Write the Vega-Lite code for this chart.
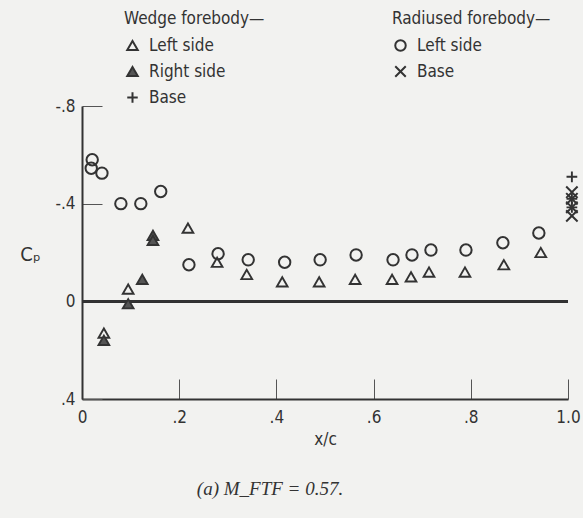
{
  "$schema": "https://vega.github.io/schema/vega-lite/v6.json",
  "width": 486,
  "height": 293,
  "autosize": "none",
  "padding": {"left": 82, "top": 106, "right": 15, "bottom": 119},
  "background": "#f2f2f0",
  "config": {
    "view": {"stroke": null},
    "font": "Liberation Sans Narrow, DejaVu Sans Condensed, Liberation Sans",
    "axis": {
      "domainColor": "#333",
      "domainWidth": 2,
      "tickColor": "#555",
      "tickWidth": 1,
      "tickSize": -20,
      "grid": false,
      "labelFlush": false,
      "labelFontSize": 17,
      "labelColor": "#333",
      "titleFontSize": 17,
      "titleFontWeight": "normal",
      "titleColor": "#333"
    },
    "legend": {
      "orient": "none",
      "titleFontSize": 17,
      "labelFontSize": 17,
      "titleFontWeight": "normal",
      "titleColor": "#333",
      "labelColor": "#333",
      "rowPadding": 7,
      "titlePadding": 9,
      "symbolStrokeWidth": 2,
      "symbolStrokeColor": "#333",
      "symbolSize": 110,
      "labelOffset": 8,
      "padding": 0
    }
  },
  "title": {
    "text": "(a)  M_FTF = 0.57.",
    "orient": "bottom",
    "font": "Liberation Serif",
    "fontStyle": "italic",
    "fontWeight": "normal",
    "fontSize": 19,
    "color": "#333",
    "offset": 33,
    "dx": -55
  },
  "data": {
    "values": [
      {"forebody": "Radiused", "series": "Left side", "x": 0.021, "cp": -0.58},
      {"forebody": "Radiused", "series": "Left side", "x": 0.019, "cp": -0.545},
      {"forebody": "Radiused", "series": "Left side", "x": 0.041, "cp": -0.525},
      {"forebody": "Radiused", "series": "Left side", "x": 0.080, "cp": -0.40},
      {"forebody": "Radiused", "series": "Left side", "x": 0.121, "cp": -0.40},
      {"forebody": "Radiused", "series": "Left side", "x": 0.162, "cp": -0.45},
      {"forebody": "Radiused", "series": "Left side", "x": 0.220, "cp": -0.15},
      {"forebody": "Radiused", "series": "Left side", "x": 0.280, "cp": -0.195},
      {"forebody": "Radiused", "series": "Left side", "x": 0.342, "cp": -0.17},
      {"forebody": "Radiused", "series": "Left side", "x": 0.417, "cp": -0.16},
      {"forebody": "Radiused", "series": "Left side", "x": 0.490, "cp": -0.17},
      {"forebody": "Radiused", "series": "Left side", "x": 0.564, "cp": -0.19},
      {"forebody": "Radiused", "series": "Left side", "x": 0.640, "cp": -0.17},
      {"forebody": "Radiused", "series": "Left side", "x": 0.679, "cp": -0.19},
      {"forebody": "Radiused", "series": "Left side", "x": 0.718, "cp": -0.21},
      {"forebody": "Radiused", "series": "Left side", "x": 0.790, "cp": -0.21},
      {"forebody": "Radiused", "series": "Left side", "x": 0.866, "cp": -0.24},
      {"forebody": "Radiused", "series": "Left side", "x": 0.940, "cp": -0.28},
      {"forebody": "Radiused", "series": "Base", "x": 1.008, "cp": -0.447},
      {"forebody": "Radiused", "series": "Base", "x": 1.008, "cp": -0.42},
      {"forebody": "Radiused", "series": "Base", "x": 1.008, "cp": -0.385},
      {"forebody": "Radiused", "series": "Base", "x": 1.008, "cp": -0.35},
      {"forebody": "Wedge", "series": "Left side", "x": 0.045, "cp": 0.13},
      {"forebody": "Wedge", "series": "Left side", "x": 0.095, "cp": -0.05},
      {"forebody": "Wedge", "series": "Left side", "x": 0.218, "cp": -0.30},
      {"forebody": "Wedge", "series": "Left side", "x": 0.278, "cp": -0.16},
      {"forebody": "Wedge", "series": "Left side", "x": 0.339, "cp": -0.11},
      {"forebody": "Wedge", "series": "Left side", "x": 0.412, "cp": -0.08},
      {"forebody": "Wedge", "series": "Left side", "x": 0.488, "cp": -0.08},
      {"forebody": "Wedge", "series": "Left side", "x": 0.562, "cp": -0.09},
      {"forebody": "Wedge", "series": "Left side", "x": 0.638, "cp": -0.09},
      {"forebody": "Wedge", "series": "Left side", "x": 0.677, "cp": -0.10},
      {"forebody": "Wedge", "series": "Left side", "x": 0.714, "cp": -0.12},
      {"forebody": "Wedge", "series": "Left side", "x": 0.788, "cp": -0.12},
      {"forebody": "Wedge", "series": "Left side", "x": 0.868, "cp": -0.15},
      {"forebody": "Wedge", "series": "Left side", "x": 0.944, "cp": -0.20},
      {"forebody": "Wedge", "series": "Right side", "x": 0.045, "cp": 0.16},
      {"forebody": "Wedge", "series": "Right side", "x": 0.095, "cp": 0.01},
      {"forebody": "Wedge", "series": "Right side", "x": 0.124, "cp": -0.09},
      {"forebody": "Wedge", "series": "Right side", "x": 0.146, "cp": -0.27},
      {"forebody": "Wedge", "series": "Right side", "x": 0.146, "cp": -0.25},
      {"forebody": "Wedge", "series": "Base", "x": 1.008, "cp": -0.51},
      {"forebody": "Wedge", "series": "Base", "x": 1.008, "cp": -0.42},
      {"forebody": "Wedge", "series": "Base", "x": 1.008, "cp": -0.385}
    ]
  },
  "layer": [
    {
      "mark": {"type": "rule", "color": "#333", "strokeWidth": 2},
      "encoding": {
        "y": {
          "datum": 0, "type": "quantitative",
          "scale": {"domain": [-0.8, 0.4], "reverse": true, "nice": false, "zero": false},
          "axis": {"values": [-0.8, -0.4, 0, 0.4], "labelExpr": "datum.value == 0 ? '0' : (datum.value < 0 ? '-' : '') + '.' + format(abs(datum.value) * 10, 'd')", "title": "Cₚ", "titleFontSize": 20, "titleAngle": 0, "titleX": -52, "titleY": 158, "labelPadding": 27}
        }
      }
    },
    {
      "transform": [{"filter": "datum.forebody === 'Wedge'"}],
      "mark": {"type": "point", "filled": true, "strokeWidth": 1.9, "size": 115, "opacity": 1},
      "encoding": {
        "x": {
          "field": "x", "type": "quantitative",
          "scale": {"domain": [0, 1], "nice": false},
          "axis": {"values": [0, 0.2, 0.4, 0.6, 0.8, 1], "labelExpr": "datum.value == 0 ? '0' : datum.value == 1 ? '1.0' : '.' + format(datum.value * 10, 'd')", "title": "x/c", "labelPadding": 30, "titlePadding": 6}
        },
        "y": {
          "field": "cp", "type": "quantitative",
          "scale": {"domain": [-0.8, 0.4], "reverse": true, "nice": false, "zero": false},
          "axis": {"values": [-0.8, -0.4, 0, 0.4], "labelExpr": "datum.value == 0 ? '0' : (datum.value < 0 ? '-' : '') + '.' + format(abs(datum.value) * 10, 'd')", "title": "Cₚ", "titleFontSize": 20, "titleAngle": 0, "titleX": -52, "titleY": 158, "labelPadding": 27}
        },
        "shape": {
          "field": "series", "type": "nominal",
          "scale": {"domain": ["Left side", "Right side", "Base"], "range": ["triangle-up", "triangle-up", "M-1,0H1M0,-1V1"]},
          "legend": {"title": "Wedge forebody—", "legendX": 42, "legendY": -95}
        },
        "fill": {
          "field": "series", "type": "nominal",
          "scale": {"domain": ["Left side", "Right side", "Base"], "range": ["transparent", "#555", "transparent"]},
          "legend": {"title": "Wedge forebody—", "legendX": 42, "legendY": -95}
        },
        "stroke": {
          "field": "series", "type": "nominal",
          "scale": {"domain": ["Left side", "Right side", "Base"], "range": ["#333", "#333", "#333"]},
          "legend": {"title": "Wedge forebody—", "legendX": 42, "legendY": -95}
        }
      }
    },
    {
      "transform": [{"filter": "datum.forebody === 'Radiused'"}],
      "mark": {"type": "point", "filled": false, "stroke": "#333", "strokeWidth": 2, "size": 130, "opacity": 1},
      "encoding": {
        "x": {
          "field": "x", "type": "quantitative",
          "scale": {"domain": [0, 1], "nice": false},
          "axis": {"values": [0, 0.2, 0.4, 0.6, 0.8, 1], "labelExpr": "datum.value == 0 ? '0' : datum.value == 1 ? '1.0' : '.' + format(datum.value * 10, 'd')", "title": "x/c", "labelPadding": 30, "titlePadding": 6}
        },
        "y": {
          "field": "cp", "type": "quantitative",
          "scale": {"domain": [-0.8, 0.4], "reverse": true, "nice": false, "zero": false},
          "axis": {"values": [-0.8, -0.4, 0, 0.4], "labelExpr": "datum.value == 0 ? '0' : (datum.value < 0 ? '-' : '') + '.' + format(abs(datum.value) * 10, 'd')", "title": "Cₚ", "titleFontSize": 20, "titleAngle": 0, "titleX": -52, "titleY": 158, "labelPadding": 27}
        },
        "shape": {
          "field": "series", "type": "nominal",
          "scale": {"domain": ["Left side", "Base"], "range": ["circle", "M-1,-1L1,1M-1,1L1,-1"]},
          "legend": {"title": "Radiused forebody—", "legendX": 310, "legendY": -95}
        }
      }
    }
  ],
  "resolve": {"scale": {"shape": "independent", "fill": "independent", "stroke": "independent"}}
}
